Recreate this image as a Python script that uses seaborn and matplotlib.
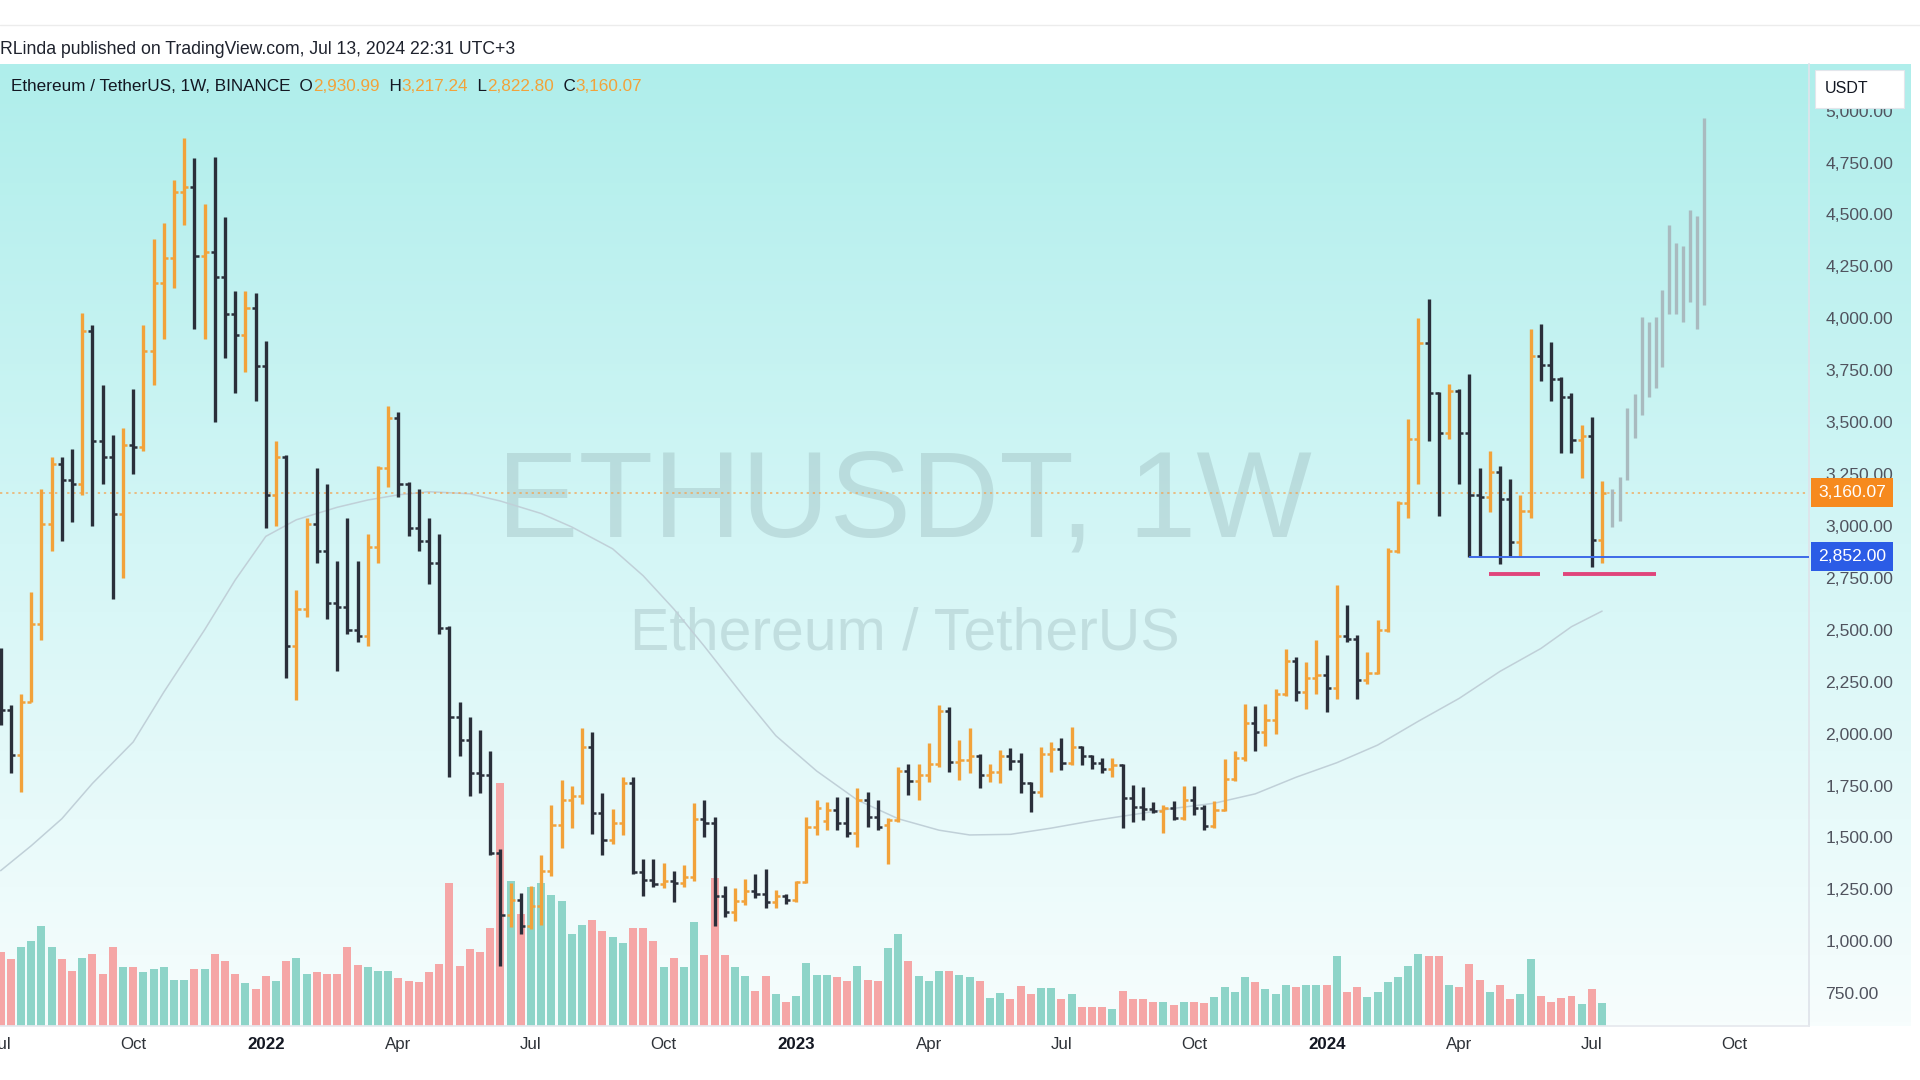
import numpy as np
import matplotlib
matplotlib.use("Agg")
import matplotlib.pyplot as plt
from matplotlib.colors import LinearSegmentedColormap
from matplotlib.patches import Rectangle
import seaborn as sns

# Weekly ETH/USDT bars, first bar = week of 2021-07-05
open_ = [2324, 2115, 1895, 2150, 2530, 3010, 3300, 3220, 3200, 3940,
         3410, 3330, 3060, 3390, 3380, 3845, 4170, 4290, 4610, 4630,
         4300, 4320, 4200, 4020, 3920, 4050, 3770, 3150, 3330, 2420,
         2600, 3010, 2880, 2630, 2610, 2500, 2470, 2900, 3280, 3520,
         3200, 2990, 2930, 2820, 2510, 2080, 1970, 1810, 1800, 1425,
         1127, 1199, 1075, 1170, 1340, 1560, 1680, 1700, 1935, 1620,
         1490, 1570, 1760, 1335, 1295, 1275, 1290, 1280, 1310, 1590,
         1570, 1220, 1140, 1195, 1240, 1230, 1190, 1220, 1200, 1285,
         1550, 1580, 1632, 1568, 1520, 1680, 1600, 1560, 1585, 1820,
         1770, 1800, 1856, 2110, 1865, 1875, 1890, 1800, 1815, 1890,
         1870, 1760, 1720, 1900, 1925, 1860, 1937, 1890, 1857, 1830,
         1848, 1688, 1645, 1635, 1628, 1640, 1595, 1680, 1640, 1555,
         1630, 1780, 1885, 2050, 2010, 2065, 2190, 2350, 2200, 2270,
         2282, 2220, 2470, 2455, 2260, 2290, 2500, 2880, 3110, 3420,
         3880, 3640, 3450, 3650, 3450, 3150, 3140, 3260, 3130, 2925,
         3070, 3820, 3775, 3710, 3620, 3415, 3435, 2930.99]
high = [2410, 2140, 2190, 2680, 3180, 3330, 3330, 3370, 4027, 3970,
        3680, 3440, 3470, 3660, 3970, 4380, 4460, 4665, 4868, 4770,
        4550, 4778, 4490, 4130, 4130, 4120, 3890, 3410, 3340, 2690,
        3040, 3280, 3200, 2830, 3040, 2830, 2960, 3290, 3580, 3550,
        3210, 3180, 3040, 2960, 2520, 2150, 2080, 2017, 1917, 1445,
        1280, 1234, 1265, 1415, 1656, 1776, 1746, 2027, 2007, 1716,
        1636, 1790, 1790, 1395, 1395, 1375, 1340, 1365, 1665, 1680,
        1600, 1265, 1255, 1300, 1325, 1350, 1245, 1230, 1290, 1600,
        1680, 1672, 1696, 1696, 1736, 1720, 1680, 1595, 1840, 1856,
        1856, 1953, 2137, 2129, 1969, 2025, 1900, 1856, 1921, 1929,
        1905, 1768, 1937, 1961, 1977, 2033, 1940, 1897, 1881, 1881,
        1856, 1752, 1744, 1672, 1656, 1677, 1749, 1749, 1654, 1677,
        1880, 1916, 2143, 2131, 2143, 2215, 2406, 2370, 2346, 2453,
        2380, 2717, 2620, 2477, 2394, 2549, 2895, 3122, 3516, 4000,
        4093, 3647, 3683, 3659, 3730, 3277, 3360, 3290, 3225, 3150,
        3950, 3975, 3887, 3715, 3640, 3486, 3526, 3217.24]
low = [2043, 1810, 1718, 2150, 2450, 2880, 2930, 3020, 3150, 3000,
       3200, 2650, 2750, 3250, 3360, 3680, 3900, 4145, 4450, 3950,
       3900, 3500, 3810, 3640, 3740, 3600, 2990, 3000, 2270, 2160,
       2560, 2820, 2550, 2300, 2480, 2440, 2420, 2820, 3190, 3140,
       2950, 2880, 2720, 2480, 1790, 1890, 1700, 1716, 1415, 880,
       1070, 1034, 1060, 1080, 1315, 1450, 1545, 1660, 1515, 1415,
       1470, 1510, 1325, 1220, 1260, 1255, 1190, 1260, 1290, 1500,
       1075, 1115, 1100, 1175, 1210, 1160, 1160, 1180, 1190, 1280,
       1510, 1536, 1536, 1504, 1455, 1552, 1536, 1370, 1576, 1704,
       1680, 1768, 1840, 1816, 1776, 1808, 1736, 1768, 1760, 1824,
       1712, 1624, 1696, 1816, 1824, 1848, 1848, 1832, 1808, 1792,
       1544, 1576, 1584, 1616, 1520, 1582, 1582, 1606, 1534, 1546,
       1625, 1770, 1868, 1916, 1940, 1999, 2180, 2155, 2119, 2191,
       2105, 2167, 2440, 2167, 2239, 2286, 2489, 2870, 3039, 3200,
       3410, 3050, 3420, 3200, 2852, 2855, 3065, 2815, 2855, 2855,
       3040, 3700, 3600, 3350, 3350, 3230, 2803, 2822.80]
close = [2115, 1895, 2150, 2530, 3010, 3300, 3220, 3200, 3940, 3410,
         3330, 3060, 3390, 3380, 3845, 4170, 4290, 4610, 4630, 4300,
         4320, 4200, 4020, 3920, 4050, 3770, 3150, 3330, 2420, 2600,
         3010, 2880, 2630, 2610, 2500, 2470, 2900, 3280, 3520, 3200,
         2990, 2930, 2820, 2510, 2080, 1970, 1810, 1800, 1425, 1127,
         1199, 1075, 1170, 1340, 1560, 1680, 1700, 1935, 1620, 1490,
         1570, 1760, 1335, 1295, 1275, 1290, 1280, 1310, 1590, 1570,
         1220, 1140, 1195, 1240, 1230, 1190, 1220, 1200, 1285, 1550,
         1640, 1632, 1568, 1520, 1680, 1600, 1552, 1585, 1820, 1770,
         1800, 1856, 2110, 1865, 1875, 1890, 1800, 1815, 1890, 1870,
         1760, 1720, 1900, 1925, 1860, 1937, 1890, 1857, 1830, 1848,
         1688, 1645, 1635, 1628, 1640, 1595, 1680, 1640, 1555, 1630,
         1780, 1885, 2050, 2010, 2065, 2190, 2350, 2200, 2270, 2282,
         2220, 2470, 2455, 2260, 2290, 2500, 2880, 3110, 3420, 3880,
         3640, 3450, 3650, 3450, 3150, 3140, 3260, 3130, 2925, 3070,
         3820, 3775, 3710, 3620, 3415, 3435, 2931, 3160.07]
# weekly volume, relative units
volume = [61, 55, 65, 70, 82, 65, 55, 45, 56, 59,
          43, 65, 48, 48, 44, 47, 48, 38, 38, 47,
          47, 59, 53, 43, 35, 30, 41, 37, 53, 56,
          43, 44, 43, 43, 65, 50, 48, 45, 45, 39,
          37, 36, 44, 51, 117, 49, 63, 61, 80, 199,
          119, 92, 114, 117, 107, 102, 75, 83, 87, 78,
          73, 68, 80, 80, 70, 48, 56, 48, 85, 58,
          121, 58, 48, 41, 29, 41, 26, 20, 25, 52,
          42, 42, 40, 37, 49, 38, 37, 64, 75, 53,
          41, 37, 45, 45, 42, 40, 37, 23, 27, 22,
          33, 26, 31, 31, 22, 26, 16, 16, 16, 14,
          29, 22, 22, 20, 20, 17, 20, 20, 19, 24,
          32, 28, 40, 36, 30, 26, 34, 32, 34, 34,
          34, 57, 28, 32, 24, 28, 36, 40, 49, 59,
          57, 57, 34, 32, 51, 38, 28, 34, 22, 26,
          55, 25, 20, 23, 25, 18, 30, 19]

# moving average line
ma_week = [0, 3, 6, 9, 13, 16, 20, 23, 26, 29, 33, 36, 39, 42, 46, 49, 53,
           56, 60, 63, 66, 69, 73, 76, 80, 84, 88, 92, 95, 99, 103, 107,
           111, 115, 119, 123, 127, 131, 135, 139, 143, 147, 151, 154, 157]
ma_value = [1340, 1460, 1590, 1760, 1960, 2200, 2500, 2740, 2950, 3030,
            3090, 3125, 3150, 3165, 3155, 3120, 3060, 2995, 2890, 2760,
            2600, 2420, 2170, 1990, 1820, 1680, 1590, 1535, 1512, 1515,
            1545, 1580, 1610, 1640, 1665, 1710, 1790, 1860, 1945, 2060,
            2170, 2300, 2410, 2515, 2590]

# projected (grey) bars after the last candle
proj_week = [157.99, 158.8, 159.45, 160.2, 160.9, 161.6, 162.25, 162.9,
             163.6, 164.2, 164.95, 165.6, 166.3, 167.0]
proj_high = [3179, 3238, 3567, 3637, 4008, 3980, 4008, 4136, 4450, 4364,
             4350, 4521, 4493, 4964]
proj_low = [2996, 3023, 3222, 3423, 3536, 3622, 3665, 3765, 4022, 4022,
            3980, 4080, 3950, 4064]

support_level = 2852.00
support_start = 144
pink_level = 2771
pink_spans = [(145.9, 150.9), (153.2, 162.3)]

month_ticks = [0, 13, 26, 39, 52, 65, 78, 91, 104, 117, 130, 143, 156, 170]
month_labels = ["Jul", "Oct", "2022", "Apr", "Jul", "Oct", "2023", "Apr",
                "Jul", "Oct", "2024", "Apr", "Jul", "Oct"]
price_ticks = list(range(750, 5001, 250))

UP = "#f2a23a"
DOWN = "#2a2f3a"
VOL_UP = "#8dd4c8"
VOL_DOWN = "#f5a6a6"

sns.set_theme(style="white")
plt.rcParams["font.family"] = ["Liberation Sans", "DejaVu Sans"]

n = len(close)
assert len(open_) == len(high) == len(low) == n == len(volume)
x = np.arange(n)
o = np.array(open_, dtype=float)
h = np.array(high, dtype=float)
l = np.array(low, dtype=float)
c = np.array(close, dtype=float)
up = c >= o
bar_col = np.where(up, UP, DOWN)
vol_col = np.where(up, VOL_UP, VOL_DOWN)

fig = plt.figure(figsize=(19.2, 10.8), dpi=100, facecolor="white")

# gradient background of the chart pane and price scale
bg = fig.add_axes([0, 0.0498, 0.995, 0.891], zorder=-2)
cmap = LinearSegmentedColormap.from_list("bg", ["#afeeeb", "#d4f6f6", "#f7fdfd"])
bg.imshow(np.linspace(0, 1, 256)[:, None], aspect="auto", cmap=cmap,
          extent=[0, 1, 0, 1])
bg.axis("off")

rect = [0, 0.0498, 0.942, 0.891]
xlim = (-0.06, 177.25)

ax_vol = fig.add_axes(rect, zorder=0)
ax_vol.set_facecolor("none")
ax_vol.bar(x, volume, width=0.78, color=vol_col, linewidth=0)
ax_vol.set_xlim(*xlim)
ax_vol.set_ylim(0, max(volume) * 3.95)
ax_vol.axis("off")

ax = fig.add_axes(rect, zorder=1)
ax.set_facecolor("none")
ax.set_xlim(*xlim)
ax.set_ylim(591, 5225)

# watermark
ax.text(0.5, 0.542, "ETHUSDT, 1W", transform=ax.transAxes, ha="center",
        va="center", fontsize=88, color="#8aa6aa", alpha=0.3, zorder=0)
ax.text(0.5, 0.408, "Ethereum / TetherUS", transform=ax.transAxes,
        ha="center", va="center", fontsize=42.5, color="#8aa6aa",
        alpha=0.3, zorder=0)

# moving average
sns.lineplot(x=ma_week, y=ma_value, ax=ax, color="#c0d0d8", linewidth=1.1,
             zorder=2)

# last price line
ax.axhline(c[-1], color="#f5a04a", linestyle=(0, (1.5, 2.5)), linewidth=1.1,
           alpha=0.85, zorder=2)

# OHLC bars
tick = 0.4
ax.vlines(x, l, h, colors=bar_col, linewidth=2.4, zorder=3)
ax.hlines(o, x - tick, x, colors=bar_col, linewidth=1.8, zorder=3)
ax.hlines(c, x, x + tick, colors=bar_col, linewidth=1.8, zorder=3)

# projection
ax.vlines(proj_week, proj_low, proj_high, colors="#a9babf", linewidth=2.4,
          zorder=3)

# support line and marks
ax.hlines(support_level, support_start, xlim[1], colors="#3d6ae8",
          linewidth=1.4, zorder=4)
for a, b in pink_spans:
    ax.hlines(pink_level, a, b, colors="#e0457b", linewidth=2.8, zorder=4)

# axes styling
for s in ["top", "left"]:
    ax.spines[s].set_visible(False)
ax.spines["right"].set_color("#dfe3ea")
ax.spines["bottom"].set_color("#e6e9ee")
ax.yaxis.tick_right()
ax.set_yticks(price_ticks)
ax.set_yticklabels([f"{v:,.2f}" for v in price_ticks])
ax.tick_params(axis="y", length=0, pad=12, labelsize=12.6,
               labelcolor="#50535e")
ax.set_xticks(month_ticks)
ax.set_xticklabels(month_labels)
ax.tick_params(axis="x", length=0, pad=8, labelsize=12.2,
               labelcolor="#2e3238")
for lab in ax.get_xticklabels():
    if lab.get_text().isdigit():
        lab.set_fontweight("bold")
        lab.set_color("#131722")
ax.set_xlabel("")
ax.set_ylabel("")
ax.grid(False)

# price labels on the scale
ax.annotate(f"{c[-1]:,.2f}", xy=(1.0, c[-1]), xycoords=("axes fraction", "data"),
            xytext=(7, 0), textcoords="offset points", ha="left", va="center",
            fontsize=12.6, color="white", annotation_clip=False, zorder=10,
            bbox=dict(boxstyle="square,pad=0.4", fc="#f68a1e", ec="none"))
ax.annotate(f"{support_level:,.2f}", xy=(1.0, support_level),
            xycoords=("axes fraction", "data"), xytext=(7, 0),
            textcoords="offset points", ha="left", va="center",
            fontsize=12.6, color="white", annotation_clip=False, zorder=10,
            bbox=dict(boxstyle="square,pad=0.4", fc="#2b5ce6", ec="none"))

# currency box on top of the scale
fig.patches.append(Rectangle((0.9452, 0.9002), 0.0465, 0.0352,
                             transform=fig.transFigure, facecolor="white",
                             edgecolor="#e3e6ec", linewidth=0.8, zorder=5))
fig.text(0.9503, 0.9180, "USDT", fontsize=11.5, color="#131722", va="center",
         zorder=6)

# header texts
fig.add_artist(plt.Line2D([0, 1], [0.977, 0.977], color="#ececec",
                          linewidth=1, transform=fig.transFigure))
fig.text(0.0, 0.9546, "RLinda published on TradingView.com, Jul 13, 2024 22:31 UTC+3",
         fontsize=12.7, color="#1e222d", va="center")
prev = fig.text(0.0057, 0.9195, "Ethereum / TetherUS, 1W, BINANCE",
                fontsize=12.3, color="#131722", va="center", zorder=6)
ohlc_parts = [("  O", "#131722"), (f"{o[-1]:,.2f}", UP),
              ("  H", "#131722"), (f"{h[-1]:,.2f}", UP),
              ("  L", "#131722"), (f"{l[-1]:,.2f}", UP),
              ("  C", "#131722"), (f"{c[-1]:,.2f}", UP)]
for txt, col in ohlc_parts:
    prev = ax.annotate(txt, xy=(1, 0), xycoords=prev, ha="left", va="bottom",
                       fontsize=12.3, color=col, annotation_clip=False,
                       zorder=6)

fig.savefig("out.png", dpi=100, facecolor="white")
